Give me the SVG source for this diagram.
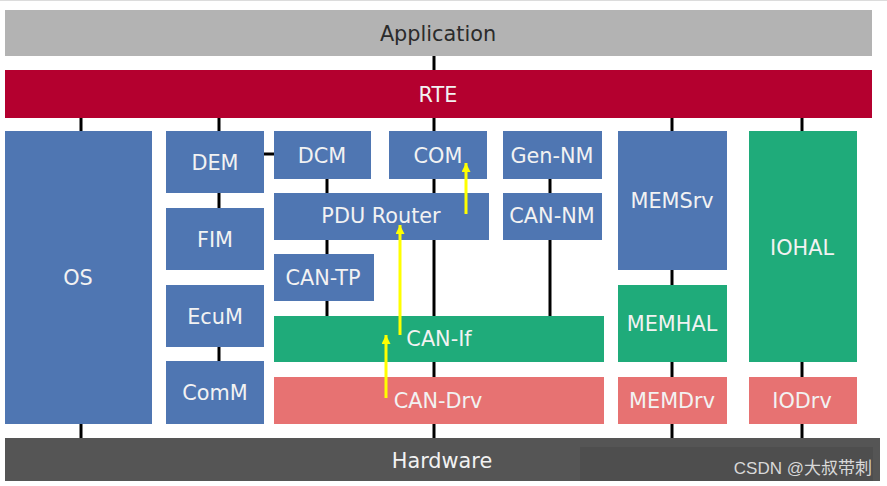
<svg xmlns="http://www.w3.org/2000/svg" width="887" height="486" viewBox="0 0 887 486">
<style>
  text { font-family: "DejaVu Sans", Verdana, sans-serif; font-size: 20.8px; text-anchor: middle; fill: #f2f2f2; }
  .blue { fill: #4f76b2; }
  .green { fill: #1fab7a; }
  .red { fill: #e77272; }
  .conn line { stroke: #000; stroke-width: 3; }
  .arrows line { stroke: #ffff00; stroke-width: 3; }
</style>
<defs>
  <marker id="yh" viewBox="0 0 10 10" refX="10" refY="5" markerWidth="3" markerHeight="3" orient="auto" markerUnits="strokeWidth">
    <path d="M0,0 L10,5 L0,10 Z" fill="#ffff00"/>
  </marker>
</defs>
<rect x="0" y="0" width="887" height="486" fill="#fff"/>
<line x1="0" y1="0.5" x2="887" y2="0.5" stroke="#dcdcdc" stroke-width="1"/>

<g id="connectors" class="conn">
  <line x1="434" y1="56" x2="434" y2="70"/>
  <line x1="81" y1="118" x2="81" y2="131"/>
  <line x1="219" y1="118" x2="219" y2="131"/>
  <line x1="434" y1="118" x2="434" y2="131"/>
  <line x1="672" y1="118" x2="672" y2="131"/>
  <line x1="802" y1="118" x2="802" y2="131"/>
  <line x1="264" y1="154" x2="274" y2="154"/>
  <line x1="219" y1="193" x2="219" y2="208"/>
  <line x1="219" y1="347" x2="219" y2="361"/>
  <line x1="327" y1="179" x2="327" y2="193"/>
  <line x1="434" y1="179" x2="434" y2="193"/>
  <line x1="550" y1="179" x2="550" y2="193"/>
  <line x1="327" y1="240" x2="327" y2="254"/>
  <line x1="327" y1="301" x2="327" y2="316"/>
  <line x1="434" y1="240" x2="434" y2="316"/>
  <line x1="550" y1="240" x2="550" y2="316"/>
  <line x1="434" y1="362" x2="434" y2="377"/>
  <line x1="672" y1="270" x2="672" y2="285"/>
  <line x1="672" y1="362" x2="672" y2="377"/>
  <line x1="802" y1="362" x2="802" y2="377"/>
  <line x1="81" y1="424" x2="81" y2="438"/>
  <line x1="434" y1="424" x2="434" y2="438"/>
  <line x1="672" y1="424" x2="672" y2="438"/>
  <line x1="802" y1="424" x2="802" y2="438"/>
</g>

<g id="application"><rect x="5" y="10" width="867" height="46" fill="#b3b3b3"/><text x="438" y="41" style="fill:#2b2b2b">Application</text></g>
<g id="rte"><rect x="5" y="70" width="867" height="48" fill="#b4002f"/><text x="438" y="102">RTE</text></g>
<g id="os"><rect x="5" y="131" width="147" height="293" class="blue"/><text x="78" y="285">OS</text></g>
<g id="dem"><rect x="166" y="131" width="98" height="62" class="blue"/><text x="215" y="170">DEM</text></g>
<g id="fim"><rect x="166" y="208" width="98" height="62" class="blue"/><text x="215" y="247">FIM</text></g>
<g id="ecum"><rect x="166" y="285" width="98" height="62" class="blue"/><text x="215" y="324">EcuM</text></g>
<g id="comm"><rect x="166" y="361" width="98" height="63" class="blue"/><text x="215" y="400">ComM</text></g>
<g id="dcm"><rect x="274" y="131" width="97" height="48" class="blue"/><text x="322" y="163">DCM</text></g>
<g id="com"><rect x="389" y="131" width="98" height="48" class="blue"/><text x="438" y="163">COM</text></g>
<g id="gen-nm"><rect x="503" y="131" width="99" height="48" class="blue"/><text x="552" y="163">Gen-NM</text></g>
<g id="pdu-router"><rect x="274" y="193" width="215" height="47" class="blue"/><text x="381" y="223">PDU Router</text></g>
<g id="can-nm"><rect x="503" y="193" width="99" height="47" class="blue"/><text x="552" y="223">CAN-NM</text></g>
<g id="can-tp"><rect x="274" y="254" width="100" height="47" class="blue"/><text x="323" y="285">CAN-TP</text></g>
<g id="can-if"><rect x="274" y="316" width="330" height="46" class="green"/><text x="439" y="346">CAN-If</text></g>
<g id="can-drv"><rect x="274" y="377" width="330" height="47" class="red"/><text x="438" y="408">CAN-Drv</text></g>
<g id="memsrv"><rect x="618" y="131" width="109" height="139" class="blue"/><text x="672" y="208">MEMSrv</text></g>
<g id="memhal"><rect x="618" y="285" width="109" height="77" class="green"/><text x="672" y="331">MEMHAL</text></g>
<g id="memdrv"><rect x="618" y="377" width="109" height="47" class="red"/><text x="672" y="408">MEMDrv</text></g>
<g id="iohal"><rect x="749" y="131" width="108" height="231" class="green"/><text x="802" y="255">IOHAL</text></g>
<g id="iodrv"><rect x="749" y="377" width="108" height="47" class="red"/><text x="802" y="408">IODrv</text></g>
<g id="hardware"><rect x="5" y="438" width="875" height="43" fill="#555555"/><rect x="580" y="447" width="293" height="34" fill="#4e4e4e"/><text x="442" y="468">Hardware</text></g>

<g id="arrows" class="arrows">
  <line x1="466" y1="214" x2="466" y2="163" marker-end="url(#yh)"/>
  <line x1="400" y1="335" x2="400" y2="225" marker-end="url(#yh)"/>
  <line x1="386" y1="398" x2="386" y2="335" marker-end="url(#yh)"/>
</g>

<text x="872" y="474" style="font-family:'Liberation Sans','Noto Sans CJK SC',sans-serif;font-size:17px;text-anchor:end;fill:#d8d8d8">CSDN @大叔带刺</text>
</svg>
